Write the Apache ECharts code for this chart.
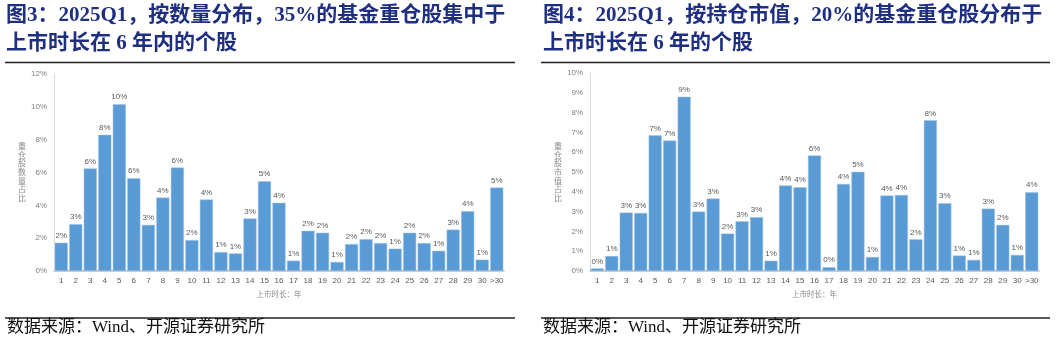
<!DOCTYPE html>
<html><head><meta charset="utf-8">
<script src="https://cdn.jsdelivr.net/npm/echarts@6/dist/echarts.min.js"></script>
<style>html,body{margin:0;padding:0;background:#fff}#c{width:1057px;height:348px}</style>
</head><body><div id="c"></div>
<script>
const categories = ['1','2','3','4','5','6','7','8','9','10','11','12','13','14','15','16','17','18','19','20','21','22','23','24','25','26','27','28','29','30','>30'];
const countShare = [1.72,2.85,6.25,8.30,10.16,5.65,2.81,4.47,6.30,1.88,4.35,1.15,1.07,3.20,5.47,4.15,0.63,2.45,2.33,0.55,1.64,1.94,1.70,1.36,2.33,1.70,1.23,2.52,3.64,0.69,5.08];
const countLabels = ['2%','3%','6%','8%','10%','6%','3%','4%','6%','2%','4%','1%','1%','3%','5%','4%','1%','2%','2%','1%','2%','2%','2%','1%','2%','2%','1%','3%','4%','1%','5%'];
const valueShare = [0.13,0.76,2.95,2.93,6.85,6.59,8.80,3.00,3.66,1.89,2.51,2.72,0.52,4.32,4.23,5.83,0.19,4.40,5.01,0.71,3.81,3.84,1.60,7.61,3.42,0.78,0.56,3.15,2.33,0.81,3.98];
const valueLabels = ['0%','1%','3%','3%','7%','7%','9%','3%','3%','2%','3%','3%','1%','4%','4%','6%','0%','4%','5%','1%','4%','4%','2%','8%','3%','1%','1%','3%','2%','1%','4%'];
const leftTicks = {max:12, interval:2};
const rightTicks = {max:10, interval:1};
const title1 = ['图3：2025Q1，按数量分布，35%的基金重仓股集中于','上市时长在 6 年内的个股'];
const title2 = ['图4：2025Q1，按持仓市值，20%的基金重仓股分布于','上市时长在 6 年的个股'];
const source = '数据来源：Wind、开源证券研究所';
const yName1 = '重仓股数量占比';
const yName2 = '重仓股市值占比';
const xName = '上市时长：年';

const chart = echarts.init(document.getElementById('c'), null, {renderer:'canvas'});
const grey = '#595959';
const font = "Arial, 'Liberation Sans', 'Noto Sans CJK SC', sans-serif";
function xAxis(gi){return {type:'category',gridIndex:gi,data:categories,
  axisLine:{lineStyle:{color:'#bfbfbf',width:1.5}},axisTick:{show:false},
  axisLabel:{color:grey,fontSize:8,margin:6,interval:0,fontFamily:font},
  name:xName,nameLocation:'middle',nameGap:20,nameTextStyle:{color:'#8c8c8c',fontSize:7.5,fontFamily:font}};}
function yAxis(gi,t){return {type:'value',gridIndex:gi,min:0,max:t.max,interval:t.interval,
  axisLine:{show:true,lineStyle:{color:'#d9d9d9'}},axisTick:{show:false},splitLine:{show:false},
  axisLabel:{color:'#7f7f7f',fontSize:8,margin:7,formatter:'{value}%',fontFamily:font}};}
function series(gi,data,labels){return {type:'bar',xAxisIndex:gi,yAxisIndex:gi,data:data,
  barCategoryGap:'10%',itemStyle:{color:'#5b9bd5',borderColor:'#9cc3e6',borderWidth:0.5},
  label:{show:true,position:'top',distance:3,color:grey,fontSize:8,fontFamily:font,
    formatter:p=>labels[p.dataIndex]}};}
const titleStyle = {fill:'#1f2f80',font:"bold 21px 'Liberation Serif', 'Noto Sans CJK SC', serif"};
const graphics = [];
[[title1,6],[title2,543]].forEach(([t,x])=>{
  graphics.push({type:'text',left:x,top:5,style:Object.assign({text:t[0]},titleStyle)});
  graphics.push({type:'text',left:x,top:33,style:Object.assign({text:t[1]},titleStyle)});
});
[[5,515],[541,1050]].forEach(([a,b])=>{
  graphics.push({type:'line',shape:{x1:a,y1:62.5,x2:b,y2:62.5},style:{stroke:'#222',lineWidth:1.5}});
  graphics.push({type:'line',shape:{x1:a,y1:318,x2:b,y2:318},style:{stroke:'#222',lineWidth:1.5}});
  graphics.push({type:'text',left:a+2,top:319,style:{text:source,fill:'#111',font:"17px 'Liberation Serif', 'Noto Sans CJK SC', serif"}});
});
[[yName1,22],[yName2,558]].forEach(([n,x])=>{
  graphics.push({type:'text',x:x,y:172,style:{text:n.split('').join('\n'),fill:'#8c8c8c',
    font:"8px 'Noto Sans CJK SC', sans-serif",lineHeight:8.7,align:'center',verticalAlign:'middle'}});
});
chart.setOption({
  animation:false,
  grid:[{left:54,right:553,top:74,bottom:77},{left:590,right:18,top:73,bottom:77}],
  xAxis:[xAxis(0),xAxis(1)],
  yAxis:[yAxis(0,leftTicks),yAxis(1,rightTicks)],
  series:[series(0,countShare,countLabels),series(1,valueShare,valueLabels)],
  graphic:graphics
});
</script></body></html>
